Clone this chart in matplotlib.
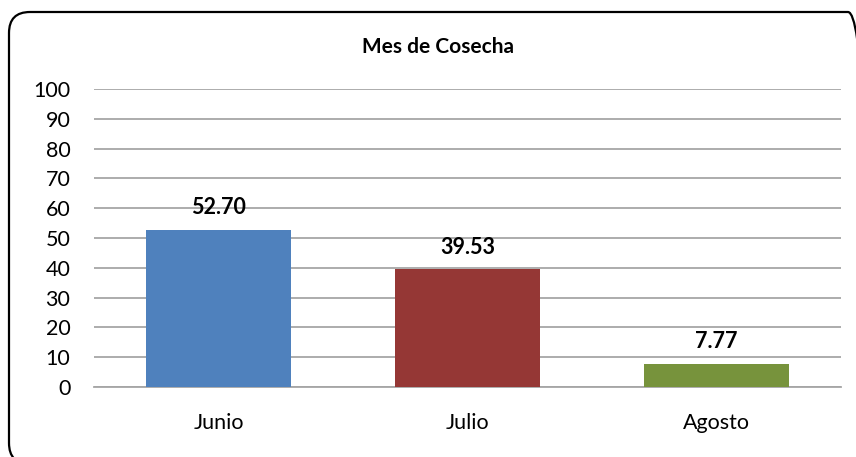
import matplotlib.pyplot as plt
from matplotlib.patches import FancyBboxPatch

months = ['Junio', 'Julio', 'Agosto']
values = [52.70, 39.53, 7.77]
colors = ['#4F81BD', '#953735', '#77933C']
yticks = list(range(0, 101, 10))

plt.rcParams['font.family'] = ['Lato', 'DejaVu Sans']

fig = plt.figure(figsize=(8.56, 4.57), dpi=100)

# rounded chart border in pixel units, right and bottom run just off the picture
box = FancyBboxPatch((9, -7), 860, 452,
                     boxstyle='round,pad=0,rounding_size=21',
                     transform=None, fill=False,
                     edgecolor='black', linewidth=1.6)
fig.patches.append(box)

ax = fig.add_axes([94 / 856, 70 / 457, 747 / 856, 298 / 457])
x = range(len(months))
ax.bar(x, values, width=0.58, color=colors, zorder=3)

for i, v in zip(x, values):
    ax.text(i, v + 5.2, f'{v:.2f}', ha='center', va='baseline',
            fontsize=15.5, fontweight='bold', zorder=4)

ax.set_xlim(-0.5, 2.5)
ax.set_ylim(0, 100)
ax.set_yticks(yticks)
ax.set_xticks(list(x))
ax.set_xticklabels(months)
ax.tick_params(axis='both', length=0, labelsize=15.5)
ax.tick_params(axis='x', pad=19)
ax.tick_params(axis='y', pad=17)
ax.grid(axis='y', color='#A6A6A6', linewidth=1.3, zorder=0)
for s in ['top', 'right', 'left']:
    ax.spines[s].set_visible(False)
ax.spines['bottom'].set_color('#A6A6A6')
ax.spines['bottom'].set_linewidth(1.3)

fig.text(438 / 856, 1 - 47 / 457, 'Mes de Cosecha', ha='center', va='center',
         fontsize=15, fontweight='bold')

fig.savefig('out.png', dpi=100)
